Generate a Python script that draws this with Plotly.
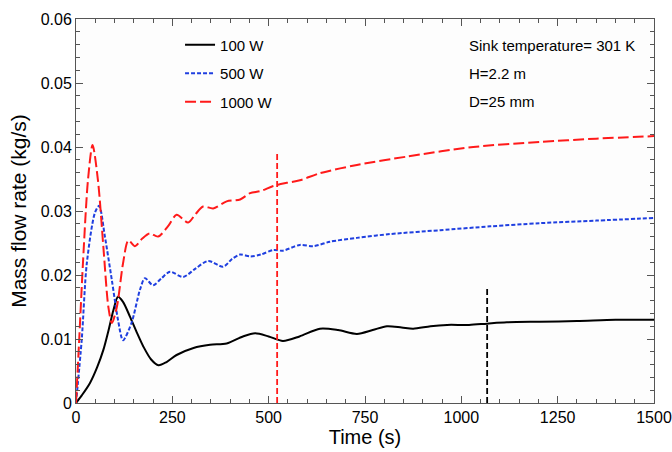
import plotly.graph_objects as go

# ---- data ----
t_100 = [0, 15, 36, 55, 71, 85, 97, 109, 122, 140, 158, 175, 195, 214, 235, 261, 305, 348, 391, 433, 465,
         500, 537, 580, 633, 680, 729, 770, 807, 845, 875, 920, 963, 1020, 1067, 1118, 1204, 1300, 1400, 1500]
m_100 = [0, 0.0012, 0.0031, 0.0056, 0.0083, 0.0115, 0.0145, 0.0166, 0.0158, 0.0135, 0.0110, 0.0088, 0.0068,
         0.0059, 0.0064, 0.0075, 0.0086, 0.0091, 0.0093, 0.0104, 0.0109, 0.0104, 0.0097, 0.0104, 0.0116,
         0.0114, 0.0108, 0.0114, 0.0120, 0.0118, 0.0116, 0.0120, 0.0122, 0.0122, 0.0124, 0.0126, 0.0127,
         0.0128, 0.0130, 0.0130]

t_500 = [0, 15, 28, 49, 60, 75, 93, 109, 122, 144, 166, 179, 200, 222, 244, 278, 310, 343, 382, 405,
         426, 452, 480, 512, 537, 581, 616, 659, 729, 815, 945, 1075, 1204, 1350, 1500]
m_500 = [0, 0.0100, 0.0218, 0.0297, 0.0308, 0.0260, 0.0192, 0.0130, 0.0098, 0.0125, 0.0177, 0.0195, 0.0184,
         0.0195, 0.0205, 0.0197, 0.0210, 0.0222, 0.0213, 0.0225, 0.0232, 0.0229, 0.0232, 0.0239, 0.0238,
         0.0247, 0.0245, 0.0252, 0.0258, 0.0264, 0.0270, 0.0276, 0.0281, 0.0285, 0.0289]

t_1000 = [0, 8, 18, 31, 43, 57, 71, 84, 93, 106, 122, 136, 153, 172, 191, 213, 240, 261, 291, 310, 330,
          356, 391, 426, 452, 478, 512, 547, 581, 633, 729, 859, 1031, 1204, 1350, 1500]
m_1000 = [0, 0.0095, 0.0218, 0.0348, 0.0403, 0.0348, 0.0244, 0.0150, 0.0125, 0.0150, 0.0218, 0.0254,
          0.0245, 0.0257, 0.0265, 0.0260, 0.0277, 0.0294, 0.0282, 0.0295, 0.0307, 0.0304, 0.0315, 0.0318,
          0.0328, 0.0331, 0.0339, 0.0344, 0.0348, 0.0359, 0.0372, 0.0385, 0.0400, 0.0408, 0.0413, 0.0417]

vline_red_x = [522, 522]
vline_red_y = [0, 0.039]
vline_black_x = [1067, 1067]
vline_black_y = [0, 0.018]

series_names = ["100 W", "500 W", "1000 W"]
notes = ["Sink temperature= 301 K", "H=2.2 m", "D=25 mm"]

FONT = "Liberation Sans, Arial, sans-serif"

fig = go.Figure()
fig.add_trace(go.Scatter(x=t_100, y=m_100, mode="lines", name=series_names[0], legendgroup="a",
                         line=dict(color="black", width=2, shape="spline", smoothing=0.8)))
fig.add_trace(go.Scatter(x=t_500, y=m_500, mode="lines", name=series_names[1], legendgroup="b",
                         line=dict(color="#1f3fe0", width=2, dash="4px,2px", shape="spline", smoothing=0.8)))
fig.add_trace(go.Scatter(x=t_1000, y=m_1000, mode="lines", name=series_names[2], legendgroup="c",
                         line=dict(color="#ff1a1a", width=2, dash="11px,4px", shape="spline", smoothing=0.8)))
fig.add_trace(go.Scatter(x=vline_red_x, y=vline_red_y, mode="lines", showlegend=False,
                         line=dict(color="#ff1a1a", width=1.8, dash="6px,3px")))
fig.add_trace(go.Scatter(x=vline_black_x, y=vline_black_y, mode="lines", showlegend=False,
                         line=dict(color="black", width=1.8, dash="6px,3px")))

for i, txt in enumerate(notes):
    fig.add_annotation(x=0.677, y=0.932 - i * 0.073, xref="paper", yref="paper", text=txt,
                       showarrow=False, xanchor="left", yanchor="middle",
                       font=dict(family=FONT, size=15, color="black"))

axis_common = dict(showline=True, linecolor="#555", linewidth=1, mirror="ticks", ticks="inside",
                   ticklen=7, tickcolor="#555", showgrid=False, zeroline=False, automargin=False,
                   tickfont=dict(family=FONT, size=16, color="black"))

fig.update_layout(
    width=672, height=452,
    margin=dict(l=76, r=18, t=19, b=49),
    paper_bgcolor="white", plot_bgcolor="#fdfdfd",
    font=dict(family=FONT, color="black"),
    showlegend=True,
    legend=dict(x=0.18, y=0.975, xanchor="left", yanchor="top", bgcolor="rgba(0,0,0,0)",
                font=dict(family=FONT, size=15), tracegroupgap=6, itemwidth=30),
    hovermode=False,
    xaxis=dict(range=[0, 1500], dtick=250, tick0=0,
               title=dict(text="Time (s)", font=dict(family=FONT, size=20), standoff=2),
               minor=dict(ticks="inside", dtick=50, ticklen=4, tickcolor="#555"),
               **axis_common),
    yaxis=dict(range=[0, 0.06], dtick=0.01, tick0=0,
               title=dict(text="Mass flow rate (kg/s)", font=dict(family=FONT, size=21), standoff=8),
               minor=dict(ticks="inside", dtick=0.002, ticklen=4, tickcolor="#555"),
               **axis_common),
)

fig.write_html("out.html")
